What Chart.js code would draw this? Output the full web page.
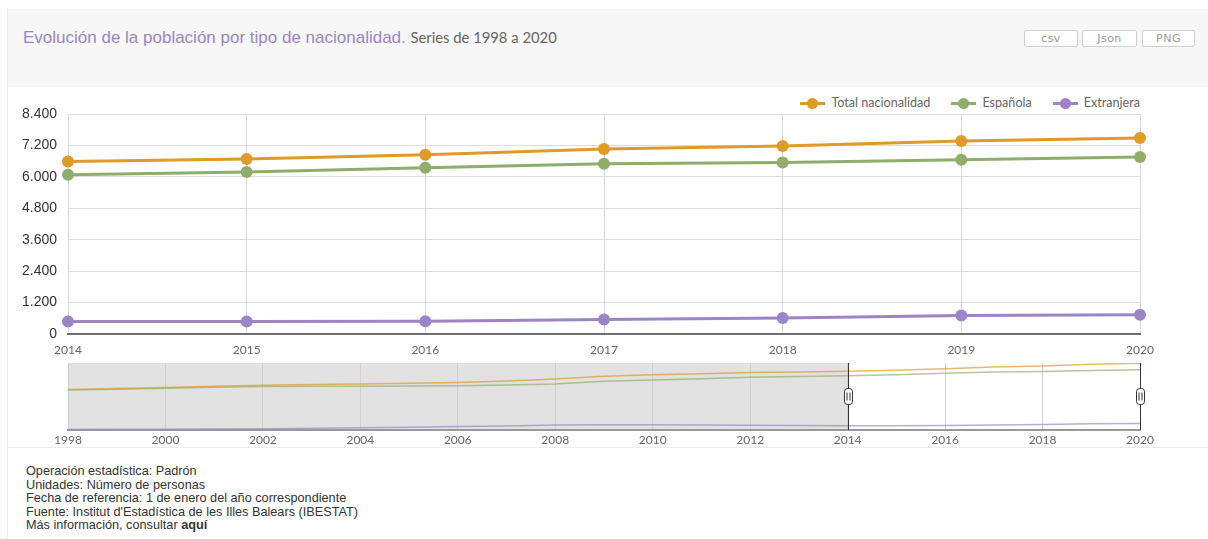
<!DOCTYPE html>
<html>
<head>
<meta charset="utf-8">
<script src="https://cdn.jsdelivr.net/npm/chart.js@4"></script>
<style>
  body { margin: 0; background: #fff; width: 1208px; height: 539px; overflow: hidden; position: relative; font-family: "Liberation Sans", Arial, sans-serif; }
  #card { position: absolute; left: 7px; top: 8px; width: 1201px; height: 531px; border-left: 1px solid #ececec; }
  #head { position: absolute; left: 8px; top: 9px; width: 1200px; height: 78px; background: #f7f7f7; }
  #title { position: absolute; left: 23px; top: 28px; font-size: 17px; color: #9a86c6; white-space: nowrap; }
  #title small { font-family: Lato, sans-serif; font-size: 14.8px; color: #666; }
  .btn { position: absolute; top: 30px; height: 15px; border: 1px solid #cfcfcf; border-radius: 2px; background: #fff;
         font-family: "DejaVu Sans", sans-serif; font-size: 11px; color: #9a9a9a; text-align: center; line-height: 15px; letter-spacing: 0.5px; }
  #legend { position: absolute; right: 68px; top: 95px; display: flex; gap: 21px; font-family: Lato, sans-serif; font-size: 12.6px; color: #666; }
  .item { display: flex; align-items: center; }
  .sym { position: relative; width: 25px; height: 12px; margin-right: 6px; }
  .sym i { position: absolute; left: 0; top: 5px; width: 25px; height: 3px; }
  .sym b { position: absolute; left: 7px; top: 1px; width: 11px; height: 11px; border-radius: 50%; }
  #mainWrap { position: absolute; left: 0; top: 88px; width: 1208px; height: 272px; }
  #navWrap { position: absolute; left: 0; top: 360px; width: 1208px; height: 88px; }
  #divider { position: absolute; left: 8px; top: 447px; width: 1200px; height: 1px; background: #ececec; }
  #foot { position: absolute; left: 26px; top: 465px; font-size: 12.7px; line-height: 13.5px; color: #333; }
</style>
</head>
<body>
<div id="card"></div>
<div id="head"></div>
<div id="title">Evolución de la población por tipo de nacionalidad. <small>Series de 1998 a 2020</small></div>
<div class="btn" style="left:1024px;width:52px;">csv</div>
<div class="btn" style="left:1082px;width:53px;">Json</div>
<div class="btn" style="left:1142px;width:51px;">PNG</div>
<div id="legend"></div>
<div id="mainWrap"><canvas id="mainChart"></canvas></div>
<div id="navWrap"><canvas id="navChart"></canvas></div>
<div id="divider"></div>
<div id="foot">
  Operación estadística: Padrón<br>
  Unidades: Número de personas<br>
  Fecha de referencia: 1 de enero del año correspondiente<br>
  Fuente: Institut d'Estadística de les Illes Balears (IBESTAT)<br>
  Más información, consultar <b>aquí</b>
</div>
<script>
// data
const years = [1998, 1999, 2000, 2001, 2002, 2003, 2004, 2005, 2006, 2007, 2008, 2009, 2010, 2011, 2012, 2013, 2014, 2015, 2016, 2017, 2018, 2019, 2020];
const total = [4535, 4640, 4760, 4900, 5020, 5080, 5140, 5220, 5320, 5480, 5700, 6030, 6180, 6300, 6430, 6500, 6590, 6682, 6846, 7064, 7178, 7369, 7484];
const espanola = [4475, 4565, 4665, 4780, 4870, 4890, 4910, 4930, 4960, 5030, 5160, 5450, 5600, 5740, 5900, 5995, 6083, 6186, 6350, 6502, 6552, 6655, 6758];
const extranjera = [60, 75, 95, 120, 150, 200, 250, 310, 380, 460, 550, 590, 585, 565, 535, 505, 481, 481, 490, 557, 611, 710, 737];
const seriesNames = ["Total nacionalidad", "Española", "Extranjera"];
const seriesColors = ["#df9a27", "#8fae6c", "#9c85c6"];
const yTicks = [0, 1200, 2400, 3600, 4800, 6000, 7200, 8400];
const zoomFrom = 2014, zoomTo = 2020;

const allSeries = [total, espanola, extranjera];
const mainIdx = years.map((y, i) => i).filter(i => years[i] >= zoomFrom && years[i] <= zoomTo);
const fmt = v => String(v).replace(/\B(?=(\d{3})+(?!\d))/g, ".");

// legend
const legend = document.getElementById("legend");
seriesNames.forEach((n, k) => {
  const el = document.createElement("div");
  el.className = "item";
  el.innerHTML = '<span class="sym"><i style="background:' + seriesColors[k] + '"></i><b style="background:' + seriesColors[k] + '"></b></span>' + n;
  legend.appendChild(el);
});

new Chart(document.getElementById("mainChart"), {
  type: "line",
  data: {
    labels: mainIdx.map(i => String(years[i])),
    datasets: allSeries.map((s, k) => ({
      label: seriesNames[k],
      data: mainIdx.map(i => s[i]),
      borderColor: seriesColors[k],
      backgroundColor: seriesColors[k],
      borderWidth: 3,
      pointRadius: 6,
      pointBorderWidth: 0,
      tension: 0,
    })),
  },
  options: {
    responsive: true,
    maintainAspectRatio: false,
    animation: false,
    layout: { padding: { top: 26, right: 68, left: 0, bottom: 0 } },
    plugins: { legend: { display: false }, tooltip: { enabled: false } },
    scales: {
      x: {
        offset: false,
        afterFit: s => { s.height = 26; },
        grid: { color: "#d9d9d9", drawTicks: false },
        border: { color: "#6f6f6f", width: 2 },
        ticks: { padding: 9, color: "#666", font: { family: "Lato", size: 12 }, maxRotation: 0 },
      },
      y: {
        min: 0,
        max: 8400,
        afterFit: s => { s.width = 68; },
        afterBuildTicks: s => { s.ticks = yTicks.map(v => ({ value: v })); },
        grid: { color: "#dedede", drawTicks: false },
        border: { display: false },
        ticks: { padding: 11, color: "#333", font: { family: "Liberation Sans", size: 14 }, callback: v => fmt(v) },
      },
    },
  },
});

const navPlugin = {
  id: "navMask",
  beforeDraw(chart) {
    const { ctx, chartArea: a, scales: { x } } = chart;
    ctx.save();
    ctx.fillStyle = "#e2e2e2";
    const x0 = x.getPixelForValue(years[0]), x1 = x.getPixelForValue(zoomFrom);
    ctx.fillRect(x0, a.top, x1 - x0, a.bottom - a.top);
    ctx.restore();
  },
  afterDatasetsDraw(chart) {
    const { ctx, chartArea: a, scales: { x } } = chart;
    ctx.save();
    [zoomFrom, zoomTo].forEach(v => {
      const px = Math.round(x.getPixelForValue(v)) + 0.5;
      ctx.strokeStyle = "#333";
      ctx.lineWidth = 1;
      ctx.beginPath();
      ctx.moveTo(px, a.top);
      ctx.lineTo(px, a.bottom);
      ctx.stroke();
      const my = (a.top + a.bottom) / 2;
      ctx.fillStyle = "#fff";
      ctx.beginPath();
      ctx.roundRect(px - 4, my - 8, 8, 16, 3);
      ctx.fill();
      ctx.stroke();
      ctx.beginPath();
      ctx.moveTo(px - 1.5, my - 4); ctx.lineTo(px - 1.5, my + 4);
      ctx.moveTo(px + 1.5, my - 4); ctx.lineTo(px + 1.5, my + 4);
      ctx.stroke();
    });
    ctx.restore();
  },
};

new Chart(document.getElementById("navChart"), {
  type: "line",
  data: {
    datasets: allSeries.map((s, k) => ({
      label: seriesNames[k],
      data: years.map((y, i) => ({ x: y, y: s[i] })),
      borderColor: seriesColors[k] + "b0",
      borderWidth: 1.5,
      pointRadius: 0,
      tension: 0,
    })),
  },
  plugins: [navPlugin],
  options: {
    responsive: true,
    maintainAspectRatio: false,
    animation: false,
    layout: { padding: { top: 3, right: 68, left: 68, bottom: 0 } },
    plugins: { legend: { display: false }, tooltip: { enabled: false } },
    scales: {
      x: {
        type: "linear",
        min: years[0],
        max: years[years.length - 1],
        afterFit: s => { s.height = 18; },
        grid: { color: "#d0d0d0", drawTicks: false },
        border: { color: "#999", width: 2 },
        ticks: { stepSize: 2, padding: 3, color: "#666", font: { family: "Lato", size: 12 }, maxRotation: 0, callback: v => String(v) },
      },
      y: { display: false, min: 0, max: 7500 },
    },
  },
});
</script>
</body>
</html>
